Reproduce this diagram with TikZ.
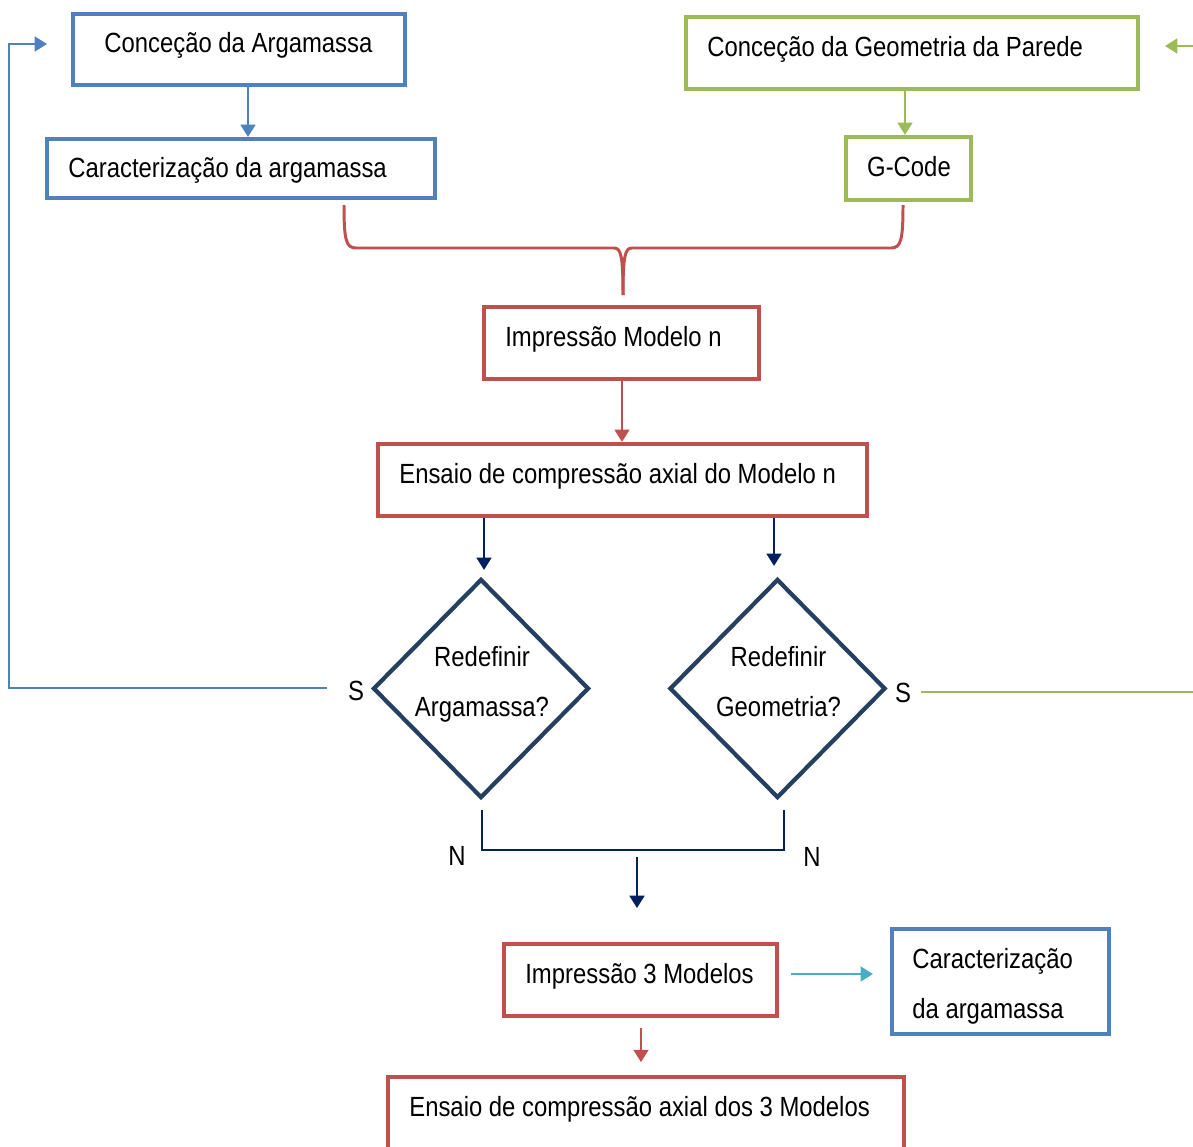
\documentclass[tikz,border=0pt]{standalone}
\usepackage{fontspec}
\setmainfont{Liberation Sans}[FakeStretch=0.86]
\usetikzlibrary{positioning}
\usetikzlibrary{calc}
\usetikzlibrary{arrows.meta,shapes.geometric}
\definecolor{boxblue}{HTML}{4F81BD}
\definecolor{boxgreen}{HTML}{9BBB59}
\definecolor{boxred}{HTML}{C0504D}
\definecolor{navy}{HTML}{002060}
\definecolor{slate}{HTML}{243F60}
\definecolor{teal}{HTML}{4BACC6}
\def\fsize{15.8}

\tikzset{
  pbox/.style={rectangle, draw=#1, line width=2.4pt, fill=white, inner sep=0pt},
  ptext/.style={anchor=base west, inner sep=0pt, font=\fontsize{\fsize}{19}\selectfont},
  ctext/.style={anchor=base, inner sep=0pt, font=\fontsize{\fsize}{19}\selectfont},
  link/.style={draw=#1, line width=1.1pt, -{Triangle[width=8.5pt,length=7pt]}},
  plain/.style={draw=#1, line width=1.1pt}
}

\begin{document}
\begin{tikzpicture}[x=0.02cm, y=-0.02cm]
\useasboundingbox (0,0) rectangle (1193,1146);
\clip (0,0) rectangle (1193,1146);

% top boxes
\node (concA) at (239,49.5) [pbox=boxblue, minimum width=6.64cm, minimum height=1.42cm] {};
\node (carA) at (241,168.5) [pbox=boxblue, minimum width=7.76cm, minimum height=1.18cm] {};
\node (concG) at (912,53) [pbox=boxgreen, minimum width=9.04cm, minimum height=1.44cm] {};
\node (gcode) at (908.5,168.5) [pbox=boxgreen, minimum width=2.5cm, minimum height=1.26cm] {};

\node (concA-t) at (104,52) [ptext] {Conceção da Argamassa};
\node (carA-t) at (68,177) [ptext] {Caracterização da argamassa};
\node (concG-t) at (707,56) [ptext] {Conceção da Geometria da Parede};
\node (gcode-t) at (909,176) [ctext] {G-Code};

\draw[link=boxblue] ($(concA.south)+(9,0)$) -- ($(carA.north)+(7,0)$);
\draw[link=boxgreen] ($(concG.south)+(-7,0)$) -- ($(gcode.north)+(-3.5,0)$);

% red brace
\coordinate (brL) at (344,205);
\coordinate (brR) at (903,205);
\coordinate (brM) at (623,295);
\draw[boxred, line width=1.7pt, line join=round]
  (brL) .. controls (344,240) and (346,248) .. (356,248) -- (614,248)
  .. controls (621,248) and (623,256) .. (brM);
\draw[boxred, line width=1.7pt, line join=round]
  (brR) .. controls (903,240) and (901,248) .. (891,248) -- (632,248)
  .. controls (625,248) and (623,256) .. (brM);

% print / test
\node (impN) at (621.5,343) [pbox=boxred, minimum width=5.5cm, minimum height=1.44cm] {};
\node (ensN) at (622.5,480) [pbox=boxred, minimum width=9.78cm, minimum height=1.44cm] {};
\node (impN-t) at (505,346) [ptext] {Impressão Modelo n};
\node (ensN-t) at (399,483) [ptext] {Ensaio de compressão axial do Modelo n};
\draw[link=boxred] ($(impN.south)+(0.5,0)$) -- ($(ensN.north)+(-0.5,0)$);

% decisions
\foreach \n/\x/\t in {decA/481/Argamassa?, decG/777.5/Geometria?} {
  \node (\n) at (\x,688.5) [diamond, draw=slate, line width=2.4pt,
    minimum width=4.32cm, minimum height=4.38cm, inner sep=0pt] {};
  \node (\n-t1) at (\x+1,666) [ctext] {Redefinir};
  \node (\n-t2) at (\x+1,716) [ctext] {\t};
}
\draw[link=navy] (ensN.south -| {$(decA.north)+(3,0)$}) -- ($(decA.north)+(3,-7)$);
\draw[link=navy] (ensN.south -| {$(decG.north)+(-3.5,0)$}) -- ($(decG.north)+(-3.5,-11)$);

\node (sA) at (356,700) [ctext] {S};
\node (sG) at (903,702) [ctext] {S};
\node (nA) at (457,865) [ctext] {N};
\node (nG) at (812,866) [ctext] {N};

% loops back
\coordinate (sA-out) at (327,688);
\coordinate (concA-in) at (47,44);
\draw[link=boxblue] (sA-out) -- (9,688) |- (concA-in);
\coordinate (sG-out) at (921,692);
\draw[plain=boxgreen] (sG-out) -- (1193,692);
\coordinate (concG-out) at (1193,46);
\coordinate (concG-in) at (1165,46);
\draw[link=boxgreen] (concG-out) -- (concG-in);

% join of the N branches
\coordinate (join) at (637,857);
\draw[plain=navy] ($(decA.south)+(1,10)$) |- (634,850) -| ($(decG.south)+(6.5,10)$);
\draw[link=navy] (join) -- ++(0,51);

% three models
\node (imp3) at (640.5,980) [pbox=boxred, minimum width=5.46cm, minimum height=1.44cm] {};
\node (carB) at (1000.5,981.5) [pbox=boxblue, minimum width=4.34cm, minimum height=2.1cm] {};
\node (ens3) at (646,1115) [pbox=boxred, minimum width=10.32cm, minimum height=1.52cm] {};
\node (imp3-t) at (525,983) [ptext] {Impressão 3 Modelos};
\node (carB-t1) at (912,968) [ptext] {Caracterização};
\node (carB-t2) at (912,1018) [ptext] {da argamassa};
\node (ens3-t) at (409,1116) [ptext] {Ensaio de compressão axial dos 3 Modelos};

\draw[link=teal] ($(imp3.east)+(12,-6)$) -- ($(carB.west)+(-17,-7.5)$);
\draw[link=boxred] ($(imp3.south)+(0.5,10)$) -- ++(0,34);
\end{tikzpicture}
\end{document}
